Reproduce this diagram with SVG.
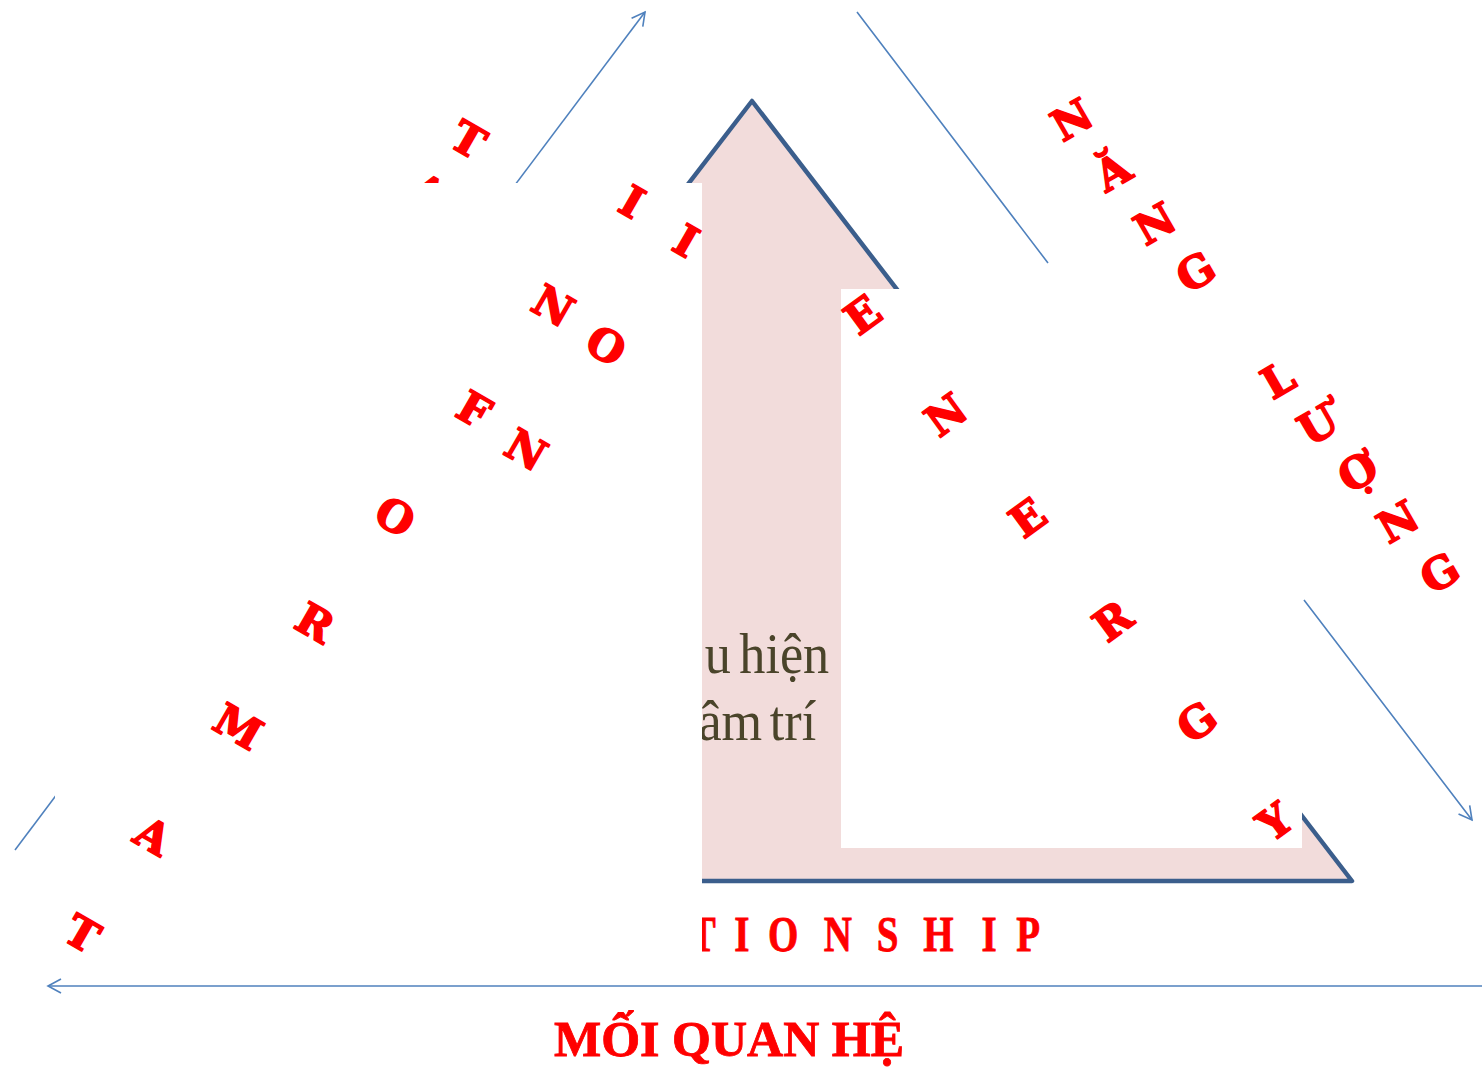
<svg xmlns="http://www.w3.org/2000/svg" width="1482" height="1067" viewBox="0 0 1482 1067">
<style>
.rl{font-family:"DejaVu Serif","Liberation Serif",serif;font-weight:bold;font-size:43px;fill:#FF0000;stroke:#FF0000;stroke-width:1.6;stroke-linejoin:round;text-anchor:middle}
.cap{font-family:"Liberation Serif","Times New Roman",serif;font-weight:bold;fill:#FF0000;stroke:#FF0000;stroke-width:0.8}
.body{font-family:"Liberation Serif","Times New Roman",serif;font-size:58px;fill:#4A442A}
.conn{fill:none;stroke:#4F81BD;stroke-width:1.6}
.occ{fill:#FFFFFF}
</style>
<defs>
<marker id="ah" markerUnits="userSpaceOnUse" markerWidth="20" markerHeight="20" refX="15" refY="9" orient="auto">
<path d="M2,2 L15,9 L2,16" fill="none" stroke="#4F81BD" stroke-width="1.6"/>
</marker>
</defs>
<rect width="1482" height="1067" fill="#FFFFFF"/>
<g id="triangle">
<polygon points="752,101 1352,881 152,881" fill="#F2DCDB" stroke="#3B5E8C" stroke-width="4.5" stroke-linejoin="round"/>
<text class="body" transform="scale(0.9,1)"><tspan x="752" y="673">ể</tspan><tspan x="783" y="673" word-spacing="-5">u hiện</tspan><tspan x="776" y="740" word-spacing="-6">âm trí</tspan></text>
</g>
<g id="label-relationship">
<text class="cap" font-size="50" transform="scale(0.78,1)" y="951" text-anchor="middle" x="901 951 1004 1074 1138 1203 1268 1318">TIONSHIP</text>
</g>
<g id="hidden-letter">
<text class="rl" transform="translate(428,192) rotate(30)" x="0" y="15">A</text>
</g>
<g id="connectors">
<path class="conn" d="M15,850 L645,12" marker-end="url(#ah)"/>
<path class="conn" d="M857,12 L1048,263 M1304,600 L1472,820" marker-end="url(#ah)"/>
<path class="conn" d="M1482,986 L48,986" marker-end="url(#ah)"/>
</g>
<rect class="occ" x="55" y="183" width="647" height="782"/>
<rect class="occ" x="841" y="289" width="461" height="559"/>
<g id="label-left">
<text class="rl" transform="translate(82,934) rotate(30)" x="0" y="15">T</text>
<text class="rl" transform="translate(153,836) rotate(30)" x="0" y="15">A</text>
<text class="rl" transform="translate(238,727) rotate(30)" x="0" y="15">M</text>
<text class="rl" transform="translate(315,623) rotate(30)" x="0" y="15">R</text>
<text class="rl" transform="translate(395,517) rotate(30)" x="0" y="15">O</text>
<text class="rl" transform="translate(474,410) rotate(30)" x="0" y="15">F</text>
<text class="rl" transform="translate(526,450) rotate(30)" x="0" y="15">N</text>
<text class="rl" transform="translate(553,306) rotate(30)" x="0" y="15">N</text>
<text class="rl" transform="translate(606,346) rotate(30)" x="0" y="15">O</text>
<text class="rl" transform="translate(632,202) rotate(30)" x="0" y="15">I</text>
<text class="rl" transform="translate(686,241) rotate(30)" x="0" y="15">I</text>
<text class="rl" transform="translate(468,140) rotate(30)" x="0" y="15">T</text>
</g>
<g id="label-energy">
<text class="rl" transform="translate(863,315) rotate(-36)" x="0" y="15">E</text>
<text class="rl" transform="translate(946,415) rotate(-36)" x="0" y="15">N</text>
<text class="rl" transform="translate(1028,518) rotate(-36)" x="0" y="15">E</text>
<text class="rl" transform="translate(1113,621) rotate(-36)" x="0" y="15">R</text>
<text class="rl" transform="translate(1197,722) rotate(-36)" x="0" y="15">G</text>
<text class="rl" transform="translate(1275,822) rotate(-36)" x="0" y="15">Y</text>
</g>
<g id="label-nangluong">
<text class="rl" transform="translate(1072,120) rotate(-30)" x="0" y="15">N</text>
<text class="rl" transform="translate(1113,172) rotate(-30)" x="0" y="15">Ă</text>
<text class="rl" transform="translate(1155,224) rotate(-30)" x="0" y="15">N</text>
<text class="rl" transform="translate(1196,272) rotate(-30)" x="0" y="15">G</text>
<text class="rl" transform="translate(1278,380) rotate(-30)" x="0" y="15">L</text>
<text class="rl" transform="translate(1318,425) rotate(-30)" x="0" y="15">Ư</text>
<text class="rl" transform="translate(1358,472) rotate(-30)" x="0" y="15">Ợ</text>
<text class="rl" transform="translate(1398,522) rotate(-30)" x="0" y="15">N</text>
<text class="rl" transform="translate(1440,573) rotate(-30)" x="0" y="15">G</text>
</g>
<g id="label-moiquanhe">
<text class="cap" font-size="50" x="729" y="1056" text-anchor="middle">MỐI QUAN HỆ</text>
</g>
</svg>
